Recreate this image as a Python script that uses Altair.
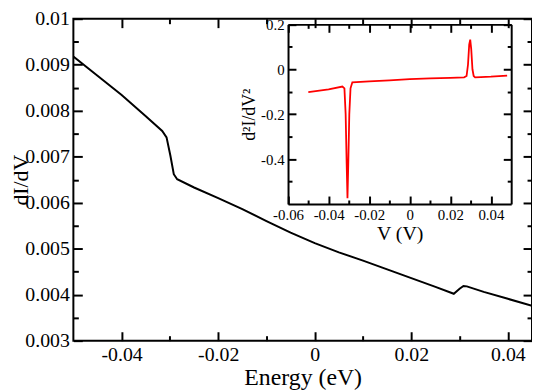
import altair as alt
import pandas as pd

# ---- main panel: dI/dV vs Energy ----
energy = [-0.050, -0.045, -0.040, -0.035, -0.0316, -0.0307, -0.0299, -0.0292, -0.0285,
          -0.025, -0.020, -0.015, -0.010, -0.005, 0.000, 0.005, 0.010, 0.015, 0.020,
          0.025, 0.0288, 0.0300, 0.0308, 0.0315, 0.035, 0.040, 0.045]
didv = [0.00918, 0.00876, 0.00834, 0.00788, 0.00756, 0.00742, 0.00702, 0.00662, 0.00651,
        0.00633, 0.00610, 0.00586, 0.00560, 0.00535, 0.00512, 0.00492, 0.00474, 0.00455, 0.00436,
        0.00417, 0.00402, 0.00413, 0.00419, 0.00418, 0.00406, 0.00391, 0.00376]

# ---- inset: d2I/dV2 vs V ----
volt = [-0.050, -0.040, -0.0332, -0.0322, -0.0316, -0.0311, -0.0307, -0.0303, -0.0298,
        -0.0292, -0.0283, -0.020, -0.010, 0.000, 0.010, 0.020, 0.0268, 0.0280, 0.0287,
        0.0293, 0.0298, 0.0303, 0.0309, 0.0315, 0.0322, 0.035, 0.040, 0.048]
d2 = [-0.102, -0.090, -0.077, -0.085, -0.20, -0.42, -0.575, -0.42, -0.20,
      -0.085, -0.058, -0.054, -0.049, -0.044, -0.041, -0.038, -0.036, -0.030, 0.02,
      0.11, 0.132, 0.09, 0.0, -0.030, -0.036, -0.035, -0.033, -0.028]

main_x_major = [-0.04, -0.02, 0.0, 0.02, 0.04]
main_x_minor = [-0.03, -0.01, 0.01, 0.03]
main_y_major = [0.003, 0.004, 0.005, 0.006, 0.007, 0.008, 0.009, 0.01]
main_y_minor = [0.0035, 0.0045, 0.0055, 0.0065, 0.0075, 0.0085, 0.0095]
ins_x_major = [-0.06, -0.04, -0.02, 0.0, 0.02, 0.04]
ins_x_minor = [-0.05, -0.03, -0.01, 0.01, 0.03]
ins_y_major = [-0.4, -0.2, 0.0, 0.2]
ins_y_minor = [-0.5, -0.3, -0.1, 0.1]

TOP = 17
W, H = 463, 342 - TOP
ix0, ix1 = 216.7, 442.0          # inset left/right in view px
iy0, iy1 = 204.0 - TOP, 22.7 - TOP   # inset bottom/top in view px

main_df = pd.DataFrame({"e": energy, "g": didv})
ins_df = pd.DataFrame({"v": volt, "d": d2})

FONT = "Liberation Serif, Times New Roman, serif"
LAB = "'' + datum.value"

mxs = alt.Scale(domain=[-0.05, 0.045], nice=False, zero=False)
mys = alt.Scale(domain=[0.003, 0.01], nice=False, zero=False)
ixs = alt.Scale(domain=[-0.06, 0.05], range=[ix0, ix1], nice=False, zero=False)
iys = alt.Scale(domain=[-0.6, 0.2], range=[iy0, iy1], nice=False, zero=False)


def tick_axis(orient, offset, values, size, domain=False):
    return alt.Axis(orient=orient, offset=offset, values=values, tickSize=size,
                    tickWidth=2, tickColor="black", labels=False, domain=domain,
                    domainColor="black", domainWidth=2, grid=False, title=None)


def tick_layer(df, xf, yf, xs, ys, xax, yax):
    return alt.Chart(df).mark_line(strokeOpacity=0).encode(
        x=alt.X(xf, type="quantitative", scale=xs, axis=xax),
        y=alt.Y(yf, type="quantitative", scale=ys, axis=yax),
    )


main_line = alt.Chart(main_df).mark_line(color="black", strokeWidth=2, clip=True).encode(
    x=alt.X("e:Q", scale=mxs, axis=alt.Axis(
        orient="bottom", values=main_x_major, ticks=False, tickSize=0, domain=False,
        grid=False, labelExpr=LAB, labelFont=FONT, labelFontSize=20, labelColor="black",
        labelPadding=4, labelFlush=False, labelOverlap=False,
        title="Energy (eV)", titleFont=FONT, titleFontSize=24, titleFontWeight="normal",
        titleColor="black", titleY=25)),
    y=alt.Y("g:Q", scale=mys, axis=alt.Axis(
        orient="left", values=main_y_major, ticks=False, tickSize=0, domain=False,
        grid=False, labelExpr=LAB, labelFont=FONT, labelFontSize=20, labelColor="black",
        labelPadding=4, labelFlush=False, labelOverlap=False,
        title="dI/dV", titleFont=FONT, titleFontSize=22, titleFontWeight="normal",
        titleColor="black", titleBaseline="alphabetic", titleX=-46)),
)

mB = tick_layer(main_df, "e", "g", mxs, mys,
                tick_axis("top", -H, main_x_major, 9), tick_axis("right", -W, main_y_major, 9))
mC = tick_layer(main_df, "e", "g", mxs, mys,
                tick_axis("top", -H, main_x_minor, 5), tick_axis("right", -W, main_y_minor, 5))
mD = tick_layer(main_df, "e", "g", mxs, mys,
                tick_axis("bottom", -H, main_x_major, 9), tick_axis("left", -W, main_y_major, 9))
mE = tick_layer(main_df, "e", "g", mxs, mys,
                tick_axis("bottom", -H, main_x_minor, 5), tick_axis("left", -W, main_y_minor, 5))

ins_line = alt.Chart(ins_df).mark_line(color="#ff0000", strokeWidth=1.8).encode(
    x=alt.X("v:Q", scale=ixs, axis=alt.Axis(
        orient="bottom", offset=-(H - iy0), values=ins_x_major, ticks=False, tickSize=0,
        domain=True, domainColor="black", domainWidth=2, grid=False,
        labelExpr=LAB, labelFont=FONT, labelFontSize=15, labelColor="black",
        labelPadding=4, labelFlush=False, labelOverlap=False,
        title="V (V)", titleFont=FONT, titleFontSize=20, titleFontWeight="normal",
        titleColor="black", titleY=20)),
    y=alt.Y("d:Q", scale=iys, axis=alt.Axis(
        orient="left", offset=-ix0, values=ins_y_major, ticks=False, tickSize=0,
        domain=True, domainColor="black", domainWidth=2, grid=False,
        labelExpr=LAB, labelFont=FONT, labelFontSize=15, labelColor="black",
        labelPadding=4, labelFlush=False, labelOverlap=False,
        title="d²I/dV²", titleFont=FONT, titleFontSize=18, titleFontWeight="normal",
        titleColor="black", titleX=-30)),
)

iG = tick_layer(ins_df, "v", "d", ixs, iys,
                tick_axis("top", -iy0, ins_x_major, 8), tick_axis("right", -(W - ix0), ins_y_major, 8))
iH = tick_layer(ins_df, "v", "d", ixs, iys,
                tick_axis("top", -iy0, ins_x_minor, 4), tick_axis("right", -(W - ix0), ins_y_minor, 4))
iI = tick_layer(ins_df, "v", "d", ixs, iys,
                tick_axis("bottom", -(H - iy1), ins_x_major, 8, domain=True),
                tick_axis("left", -ix1, ins_y_major, 8, domain=True))
iJ = tick_layer(ins_df, "v", "d", ixs, iys,
                tick_axis("bottom", -(H - iy1), ins_x_minor, 4),
                tick_axis("left", -ix1, ins_y_minor, 4))

chart = alt.layer(main_line, mB, mC, mD, mE, ins_line, iG, iH, iI, iJ).resolve_scale(
    x="independent", y="independent"
).resolve_axis(
    x="independent", y="independent"
).properties(
    width=W, height=H,
    autosize=alt.AutoSizeParams(type="none"),
    padding={"left": 66, "top": TOP - 8, "right": 0, "bottom": 50},
    background="white",
).configure(font=FONT).configure_view(stroke="black", strokeWidth=2)

chart.save("out.html", embed_options={"renderer": "svg", "actions": False})
